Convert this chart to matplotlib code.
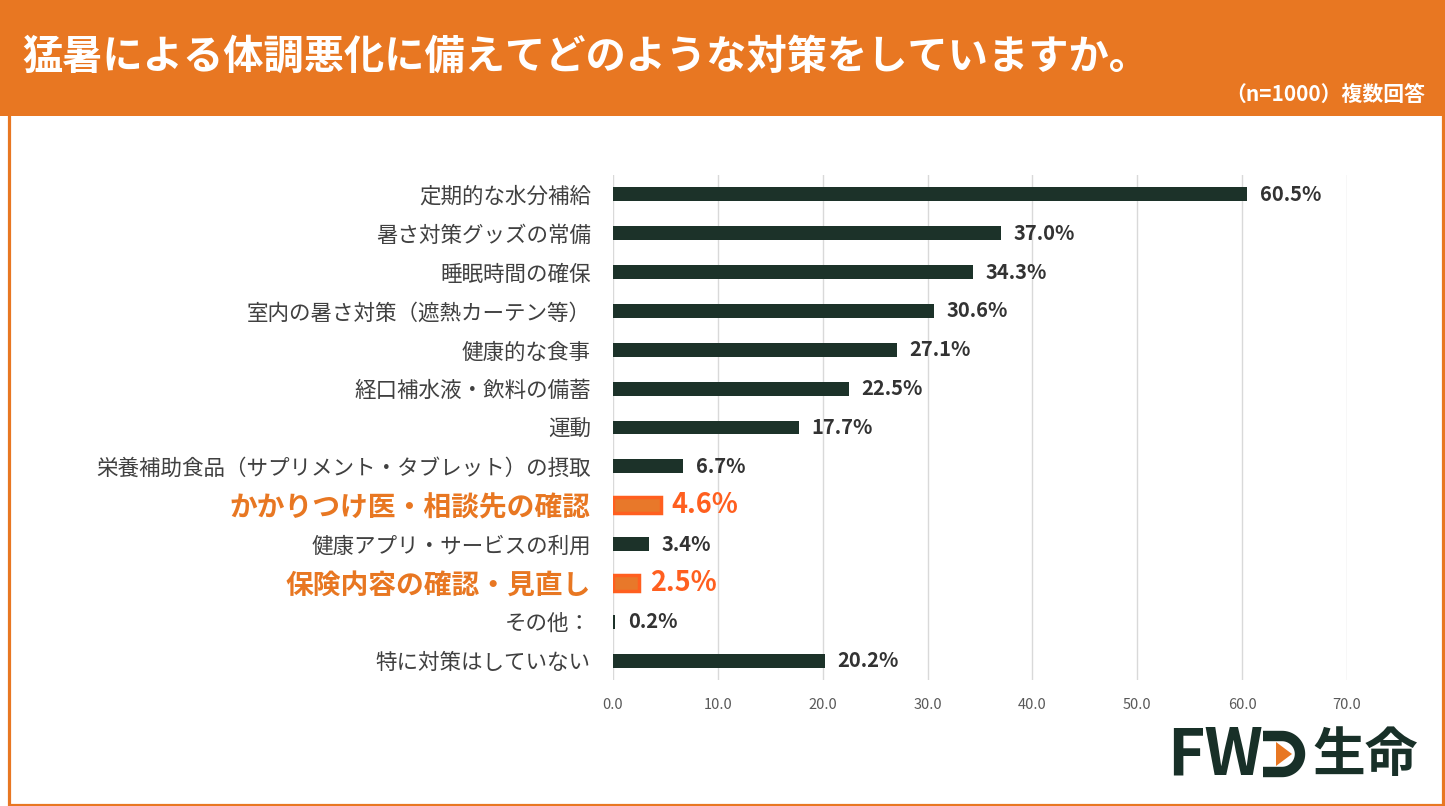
import matplotlib
matplotlib.use("Agg")
import numpy as np
import matplotlib.pyplot as plt
from matplotlib.patches import Rectangle, Polygon, PathPatch
from matplotlib.path import Path

plt.rcParams['font.family'] = ['Noto Sans CJK JP', 'DejaVu Sans']

categories = [
    "定期的な水分補給",
    "暑さ対策グッズの常備",
    "睡眠時間の確保",
    "室内の暑さ対策（遮熱カーテン等）",
    "健康的な食事",
    "経口補水液・飲料の備蓄",
    "運動",
    "栄養補助食品（サプリメント・タブレット）の摂取",
    "かかりつけ医・相談先の確認",
    "健康アプリ・サービスの利用",
    "保険内容の確認・見直し",
    "その他：",
    "特に対策はしていない",
]
values = [60.5, 37.0, 34.3, 30.6, 27.1, 22.5, 17.7, 6.7, 4.6, 3.4, 2.5, 0.2, 20.2]
highlight = [False, False, False, False, False, False, False, False, True, False, True, False, False]
xticks = [0, 10, 20, 30, 40, 50, 60, 70]

title = "猛暑による体調悪化に備えてどのような対策をしていますか。"
subtitle = "（n=1000）複数回答"

W, H = 1445, 806
fig = plt.figure(figsize=(W / 100, H / 100), dpi=100)
fig.patch.set_facecolor("white")

ORANGE = "#E87722"
DARK = "#1C3229"
HL_EDGE = "#FF5F1F"
HL_FILL = "#E8782A"
LOGO = "#183028"


def fx(px):
    return px / W


def fy(py):
    return 1 - py / H


# header band
fig.patches.append(Rectangle((0, fy(116)), 1, 116 / H, transform=fig.transFigure,
                             facecolor=ORANGE, edgecolor="none", zorder=0))
# border
fig.patches.append(Rectangle((fx(8.5), fy(804.5)), fx(1443 - 8.5), (804.5 - 2) / H,
                             transform=fig.transFigure, facecolor="none",
                             edgecolor=ORANGE, linewidth=2.3, zorder=1))

fig.text(fx(22), fy(57), title, color="white", fontsize=29, fontweight="bold",
         ha="left", va="center")
fig.text(fx(1425), fy(95), subtitle, color="white", fontsize=15, fontweight="bold",
         ha="right", va="center")

ax = fig.add_axes([fx(613), fy(680), (1347 - 613) / W, (680 - 175) / H])
ypos = list(range(len(categories)))
for y, v, h in zip(ypos, values, highlight):
    if h:
        ax.barh(y, v, height=0.42, color=HL_FILL, edgecolor=HL_EDGE, linewidth=2.5, zorder=3)
        ax.text(v + 1.0, y, f"{v:.1f}%", color=HL_EDGE, fontsize=19.5, fontweight="bold",
                ha="left", va="center")
    else:
        ax.barh(y, v, height=0.36, color=DARK, zorder=3)
        ax.text(v + 1.2, y, f"{v:.1f}%", color="#333333", fontsize=14.5, fontweight="bold",
                ha="left", va="center")

ax.set_xlim(0, 70)
ax.set_ylim(12.5, -0.5)
ax.set_xticks(xticks)
ax.set_xticklabels([f"{t:.1f}" for t in xticks], color="#595959", fontsize=10.5)
ax.set_yticks(ypos)
ax.set_yticklabels(categories)
for lab, h in zip(ax.get_yticklabels(), highlight):
    if h:
        lab.set_color(ORANGE)
        lab.set_fontsize(20)
        lab.set_fontweight("bold")
    else:
        lab.set_color("#404040")
        lab.set_fontsize(15.5)
ax.tick_params(axis="y", length=0, pad=16)
ax.tick_params(axis="x", length=0, pad=13)
for s in ax.spines.values():
    s.set_visible(False)
ax.grid(axis="x", color="#D9D9D9", linewidth=1, zorder=0)
ax.set_axisbelow(True)

# logo
fig.text(fx(1167), fy(756), "FW", color=LOGO, fontsize=46, fontweight="bold",
         ha="left", va="center")
fig.text(fx(1418), fy(756), "生命", color=LOGO, fontsize=38, fontweight="bold",
         ha="right", va="center")
# D shape: open on the left, with an orange triangle
cx, cy, r = 1282.0, 754.0, 18.0
ang = np.linspace(np.pi / 2, -np.pi / 2, 40)
pts = [(1263, cy - r)] + [(cx + r * np.cos(a), cy - r * np.sin(a)) for a in ang] + [(1263, cy + r)]
verts = [(fx(px), fy(py)) for px, py in pts]
fig.patches.append(PathPatch(Path(verts), transform=fig.transFigure, facecolor="none",
                             edgecolor=LOGO, linewidth=7.5, capstyle="butt", zorder=5))
fig.patches.append(Polygon([(fx(1276), fy(742)), (fx(1276), fy(766)), (fx(1292), fy(754))],
                           closed=True, transform=fig.transFigure, facecolor=ORANGE,
                           edgecolor="none", zorder=5))

fig.savefig("out.png", dpi=100)
